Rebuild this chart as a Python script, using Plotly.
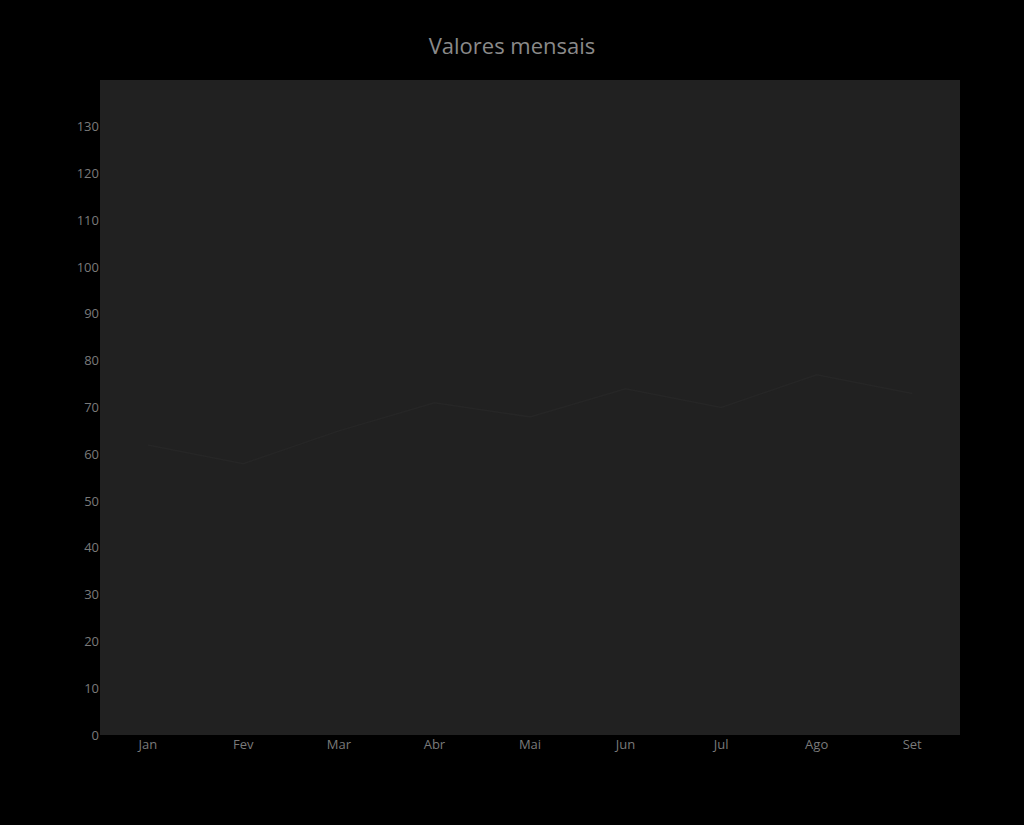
import plotly.graph_objects as go

# A referência está muito desfocada: só o layout (fundo, área do gráfico,
# posição do título e dos rótulos) pôde ser lido. O título, os rótulos e os
# valores abaixo são suposições, não valores.
meses = ['Jan', 'Fev', 'Mar', 'Abr', 'Mai', 'Jun', 'Jul', 'Ago', 'Set']
valores = [62, 58, 65, 71, 68, 74, 70, 77, 73]
y_ticks = [0, 10, 20, 30, 40, 50, 60, 70, 80, 90, 100, 110, 120, 130]

fig = go.Figure()

# Série principal (quase invisível sobre o fundo escuro, como na referência)
fig.add_trace(go.Scatter(x=meses, y=valores, mode='lines',
                         line=dict(color='#262626', width=1.5),
                         name='Valor', showlegend=False))

fig.update_layout(
    width=1024, height=825,
    paper_bgcolor='#000000',
    plot_bgcolor='#212121',
    margin=dict(l=100, r=64, t=80, b=90),
    title=dict(text='Valores mensais', x=0.5, y=0.953, xanchor='center',
               font=dict(family='Open Sans', size=22, color='#8a8a8a')),
    font=dict(family='Open Sans', size=13, color='#7a7a7a'),
)
fig.update_xaxes(range=[-0.5, 8.5], showgrid=False, zeroline=False,
                 showline=False, ticks='')
fig.update_yaxes(range=[0, 140], tickvals=y_ticks, showgrid=False,
                 zeroline=False, showline=False, ticks='')

# Página sem margem, fundo preto e sem barra de ferramentas
fig.write_html('out.html', config={'displayModeBar': False},
               post_script="document.body.style.margin='0';"
                           "document.body.style.background='#000';")
